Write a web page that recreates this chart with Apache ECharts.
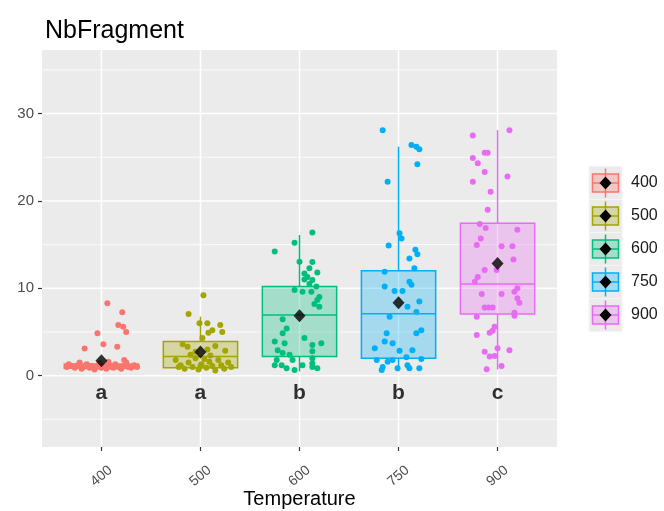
<!DOCTYPE html>
<html><head><meta charset="utf-8">
<script src="https://cdn.jsdelivr.net/npm/echarts@6/dist/echarts.min.js"></script>
<style>html,body{margin:0;padding:0;background:#fff}#c{width:664px;height:511px}</style>
</head><body><div id="c"></div>
<script>
const categories = ['400','500','600','750','900'];
const colors = ['#F8766D','#A3A500','#00BF7D','#00B0F6','#E76BF3'];
// [min, Q1, median, Q3, max]
const boxStats = [
  [0.6, 0.85, 1.0, 1.35, 1.8],
  [0.5, 0.9, 2.2, 3.9, 6.75],
  [0.5, 2.2, 6.95, 10.2, 16.1],
  [0.5, 2.0, 7.1, 12.0, 26.2],
  [0.7, 7.05, 10.5, 17.45, 28.1]
];
const means = [1.7, 2.7, 6.85, 8.35, 12.85];
const letters = ['a','a','b','b','c'];
const letterY = -2.0;
const yTicks = [0, 10, 20, 30];
const yMinor = [-5, 5, 15, 25, 35];
// [jitter, value]
const pts400 = [[0.06,8.3],[0.21,7.25],[0.17,5.8],[0.22,5.6],[0.25,5.0],[-0.04,4.85],[0.02,3.6],[-0.17,3.1],[0.16,3.3],
  [-0.35,1.0],[-0.3,1.1],[-0.27,0.9],[-0.24,1.2],[-0.2,0.8],[-0.18,1.0],[-0.15,1.3],[-0.12,0.9],[-0.1,1.1],[-0.07,0.7],
  [-0.05,1.0],[-0.02,1.4],[0.0,0.9],[0.03,1.1],[0.05,0.8],[0.08,1.2],[0.1,1.0],[0.12,0.9],[0.14,1.3],[0.17,1.0],[0.2,0.8],
  [0.22,1.1],[0.25,1.5],[0.27,1.0],[0.3,0.9],[0.33,1.2],[0.36,1.0],[-0.33,1.3],[0.07,1.6],[-0.22,1.5],[0.23,1.8]];
const pts500 = [[0.03,9.2],[-0.12,7.05],[-0.01,6.0],[0.07,6.0],[0.2,5.8],[0.12,5.2],[0.08,4.9],[0.22,5.0],[0.02,4.3],
  [-0.13,3.3],[-0.05,2.75],[0.25,2.85],[0.07,3.0],[-0.18,3.6],[0.15,3.4],
  [-0.25,1.8],[-0.2,1.2],[-0.16,0.8],[-0.12,1.5],[-0.08,1.0],[-0.05,2.0],[-0.02,0.7],[0.01,1.3],[0.04,1.9],[0.06,0.9],
  [0.09,1.6],[0.12,1.1],[0.15,0.6],[0.18,1.8],[0.21,1.2],[0.24,0.8],[0.28,1.5],[0.31,1.0],[-0.22,1.0],[0.0,1.1],[0.1,2.3],[-0.1,2.4]];
const pts600 = [[0.13,16.4],[-0.05,15.2],[-0.25,14.2],[0,13.05],[0.13,13.0],[0.05,11.7],[0.18,11.8],[0.08,11.3],[0.13,10.95],
  [0.17,10.2],[-0.05,9.8],[0.03,9.6],[0.12,9.6],[0.18,8.66],[0.2,7.9],[-0.17,6.45],[-0.13,5.4],[-0.17,4.85],[-0.25,3.9],
  [0.05,4.3],[0.22,3.7],[-0.15,3.7],[0.13,3.5],[0.13,2.8],[0.13,2.0],[0.13,1.4],[0.13,1.0],[-0.22,2.9],[-0.17,2.6],
  [-0.1,2.4],[-0.23,1.8],[-0.18,1.2],[-0.07,1.8],[-0.25,1.2],[0.03,1.2],[-0.05,0.65],[-0.13,0.85],[0.18,0.85],
  [0.05,11.0],[0.1,10.5],[0.2,9.0],[0.15,8.2],[0.1,12.3]];
const pts750 = [[-0.16,28.1],[0.13,26.4],[0.18,26.2],[0.21,25.9],[0.19,24.2],[-0.11,22.2],[0.01,16.3],[0.03,15.7],[-0.1,14.9],
  [0.17,14.4],[0.19,13.9],[0.11,13.4],[0.16,12.3],[-0.14,11.9],[0.11,10.75],[0.13,10.4],[-0.14,10.2],[-0.04,9.7],[0.04,9.7],
  [0.21,8.5],[0.09,7.9],[0.18,7.3],[-0.09,6.75],[0.23,5.2],[0.18,4.85],[-0.12,4.85],[-0.14,3.9],[-0.06,3.7],[-0.24,3.15],
  [0.01,2.85],[0.14,2.9],[-0.22,1.8],[-0.06,1.8],[0.08,2.1],[0.23,1.9],[-0.16,1.0],[-0.01,0.85],[0.11,0.85],[0.21,0.85],
  [-0.17,0.65],[0.09,1.2],[-0.11,1.6]];
const pts900 = [[0.12,28.1],[-0.25,27.5],[-0.13,25.5],[-0.1,25.5],[-0.25,24.9],[-0.2,24.3],[-0.13,23.3],[0.1,22.8],[-0.25,22.2],
  [-0.07,21.05],[-0.1,19.0],[-0.18,17.35],[-0.12,16.9],[0.2,16.7],[-0.17,15.7],[-0.21,14.95],[0.04,14.8],[0.15,14.8],
  [0.16,13.3],[-0.01,12.1],[-0.13,12.1],[-0.2,11.3],[-0.23,10.75],[0.2,10.0],[0.17,9.6],[-0.16,9.35],[0.04,9.35],[0.2,8.85],
  [0.22,8.35],[-0.13,7.8],[-0.09,7.8],[-0.05,7.8],[0.17,7.2],[0.17,6.85],[-0.21,6.75],[-0.03,5.6],[-0.05,5.15],[-0.08,4.9],
  [-0.21,4.65],[0,3.15],[0.12,2.9],[-0.13,2.75],[-0.08,2.2],[-0.03,2.25],[0.04,1.1],[-0.11,0.75]];
const groupPoints = [pts400, pts500, pts600, pts750, pts900];

const X_MIN = -0.6, X_MAX = 4.6, Y_MIN = -8.16, Y_MAX = 37.27;
const FONT = 'Liberation Sans, Arial, sans-serif';

function hexA(h, a) {
  const r = parseInt(h.slice(1,3),16), g = parseInt(h.slice(3,5),16), b = parseInt(h.slice(5,7),16);
  return `rgba(${r},${g},${b},${a})`;
}

const chart = echarts.init(document.getElementById('c'), null, {renderer: 'canvas'});

const series = [];
// grid lines
series.push({
  type: 'custom', z: 0, silent: true,
  data: yMinor.map(v => [0, v, 0]).concat(yTicks.map(v => [0, v, 1])),
  renderItem: (p, api) => {
    const v = api.value(1), major = api.value(2);
    const a = api.coord([X_MIN, v]), b = api.coord([X_MAX, v]);
    return {type: 'line', shape: {x1: a[0], y1: a[1], x2: b[0], y2: b[1]},
      style: {stroke: '#FFFFFF', lineWidth: major ? 1.5 : 0.8}};
  }
});
series.push({
  type: 'custom', z: 0, silent: true,
  data: categories.map((c, i) => [i, 0]),
  renderItem: (p, api) => {
    const x = api.value(0);
    const a = api.coord([x, Y_MIN]), b = api.coord([x, Y_MAX]);
    return {type: 'line', shape: {x1: a[0], y1: a[1], x2: b[0], y2: b[1]},
      style: {stroke: '#FFFFFF', lineWidth: 1.5}};
  }
});
// boxes
series.push({
  type: 'custom', z: 1, silent: true,
  data: boxStats.map((s, i) => [i].concat(s)),
  encode: {x: 0, y: [1,2,3,4,5]},
  renderItem: (p, api) => {
    const i = api.value(0);
    const mn = api.value(1), q1 = api.value(2), md = api.value(3), q3 = api.value(4), mx = api.value(5);
    const hw = 0.375, col = colors[i];
    const tl = api.coord([i - hw, q3]), br = api.coord([i + hw, q1]);
    const ml = api.coord([i - hw, md]), mr = api.coord([i + hw, md]);
    const wt = api.coord([i, mx]), wb = api.coord([i, mn]);
    const ls = {stroke: col, lineWidth: 1.5};
    return {type: 'group', children: [
      {type: 'line', shape: {x1: wt[0], y1: tl[1], x2: wt[0], y2: wt[1]}, style: ls},
      {type: 'line', shape: {x1: wb[0], y1: br[1], x2: wb[0], y2: wb[1]}, style: ls},
      {type: 'rect', shape: {x: tl[0], y: tl[1], width: br[0]-tl[0], height: br[1]-tl[1]},
        style: {fill: hexA(col, 0.3), stroke: col, lineWidth: 1.5}},
      {type: 'line', shape: {x1: ml[0], y1: ml[1], x2: mr[0], y2: mr[1]}, style: ls}
    ]};
  }
});
// points
groupPoints.forEach((pts, i) => {
  series.push({
    type: 'scatter', z: 3, silent: true, symbolSize: 6,
    itemStyle: {color: colors[i], opacity: 1},
    data: pts.map(([j, v]) => [i + j, v])
  });
});
// means
series.push({
  type: 'scatter', z: 4, silent: true, symbol: 'diamond', symbolSize: [12, 13],
  itemStyle: {color: '#000000'},
  data: means.map((m, i) => [i, m])
});
// letters
series.push({
  type: 'scatter', z: 5, silent: true, symbolSize: 2, itemStyle: {color: 'rgba(0,0,0,0)'},
  data: letters.map((l, i) => [i, letterY, l]),
  label: {show: true, position: 'inside', formatter: p => p.value[2],
    fontSize: 21, fontWeight: 'bold', color: '#000', fontFamily: FONT}
});

// legend drawn as graphics
const legendGraphics = [];
categories.forEach((c, i) => {
  const y = 166.5 + i * 33, cx = 605.5, cy = y + 16.5, col = colors[i];
  legendGraphics.push(
    {type: 'rect', shape: {x: 589, y: y, width: 33, height: 33}, style: {fill: '#EBEBEB', stroke: '#F5F5F5', lineWidth: 1}},
    {type: 'line', shape: {x1: cx, y1: y + 2, x2: cx, y2: y + 31}, style: {stroke: col, lineWidth: 1.5}},
    {type: 'rect', shape: {x: 592.5, y: y + 7.5, width: 26, height: 18}, style: {fill: hexA(col, 0.3), stroke: col, lineWidth: 1.5}},
    {type: 'line', shape: {x1: 592.5, y1: cy, x2: 618.5, y2: cy}, style: {stroke: col, lineWidth: 1.5}},
    {type: 'polygon', shape: {points: [[cx, cy - 6.5], [cx + 6, cy], [cx, cy + 6.5], [cx - 6, cy]]}, style: {fill: '#000'}},
    {type: 'text', x: 631, y: cy, style: {text: c, fontSize: 16, fill: '#1A1A1A', fontFamily: FONT, verticalAlign: 'middle', align: 'left'}}
  );
});

chart.setOption({
  animation: false,
  backgroundColor: '#FFFFFF',
  title: {text: 'NbFragment', left: 40, top: 14,
    textStyle: {fontSize: 25, fontWeight: 'normal', color: '#000', fontFamily: FONT}},
  grid: {left: 42, right: 107, top: 50, bottom: 64, show: true, backgroundColor: '#EBEBEB', borderWidth: 0,
    containLabel: false, outerBoundsMode: 'none'},
  xAxis: {
    type: 'value', min: X_MIN, max: X_MAX,
    axisLine: {show: false, onZero: false}, splitLine: {show: false},
    axisTick: {show: true, customValues: categories.map((c, i) => i), length: 4, lineStyle: {color: '#333', width: 1.2}},
    axisLabel: {customValues: categories.map((c, i) => i), formatter: v => categories[Math.round(v)],
      rotate: 40, fontSize: 14, color: '#4D4D4D', margin: 29, align: 'center', verticalAlign: 'middle', fontFamily: FONT},
    name: 'Temperature', nameLocation: 'middle', nameGap: 42, nameMoveOverlap: false,
    nameTextStyle: {fontSize: 20, color: '#000', fontFamily: FONT}
  },
  yAxis: {
    type: 'value', min: Y_MIN, max: Y_MAX,
    axisLine: {show: false, onZero: false}, splitLine: {show: false},
    axisTick: {show: true, customValues: yTicks, length: 4, lineStyle: {color: '#333', width: 1.2}},
    axisLabel: {customValues: yTicks, fontSize: 15, color: '#4D4D4D', margin: 8, fontFamily: FONT}
  },
  series: series,
  graphic: legendGraphics
});
</script></body></html>
